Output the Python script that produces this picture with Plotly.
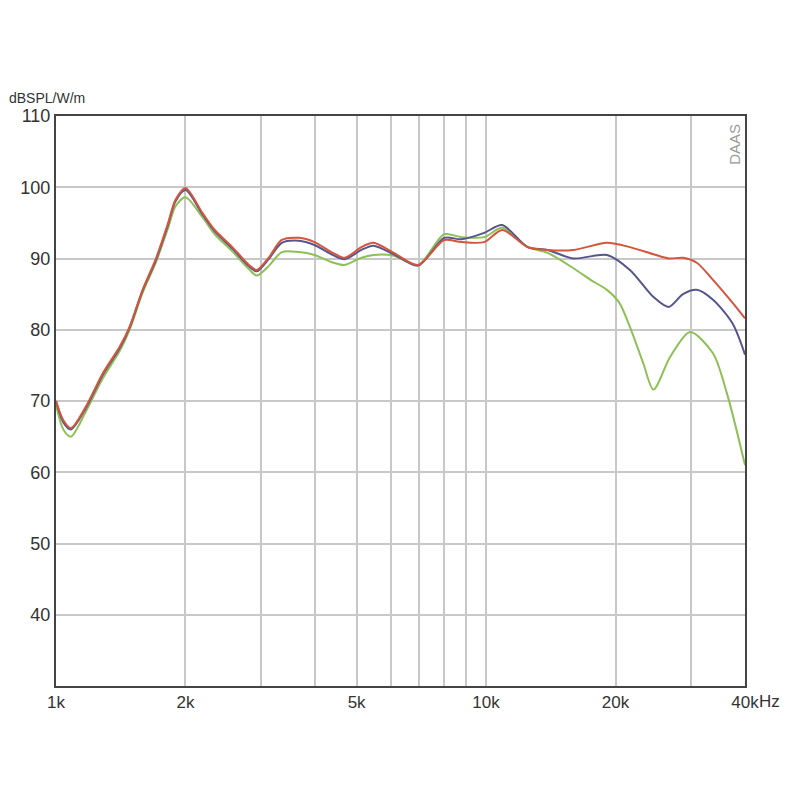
import plotly.graph_objects as go

# Frequencies in kHz
freq_common = [1.0, 1.04, 1.083, 1.173, 1.285, 1.406, 1.483, 1.59, 1.703, 1.823, 1.895, 2.0,
               2.19, 2.34, 2.57, 2.81, 2.93, 3.13, 3.35, 3.67, 3.99, 4.37, 4.69, 5.13, 5.47,
               6.1, 6.95, 7.99, 8.76, 9.9, 10.9, 12.5, 13.9]
freq_hi_rb = [15.98, 19.1, 21.6, 24.5, 26.6, 28.7, 30.9, 33.7, 37.4, 40.0]

red_db = [70.0, 67.3, 66.2, 69.2, 73.9, 77.6, 80.4, 85.6, 89.8, 95.0, 98.2, 99.9,
          96.4, 94.0, 91.6, 89.1, 88.4, 90.2, 92.6, 92.9, 92.3, 90.9, 90.1, 91.6, 92.2,
          90.8, 89.1, 92.6, 92.3, 92.3, 94.0, 91.6, 91.2,
          91.2, 92.2, 91.6, 90.6, 90.0, 90.1, 89.4, 87.0, 83.8, 81.6]

blue_db = [70.0, 67.0, 66.0, 69.0, 73.7, 77.4, 80.3, 85.5, 89.6, 94.8, 98.0, 99.6,
           96.2, 93.8, 91.4, 88.9, 88.2, 90.0, 92.2, 92.5, 91.9, 90.6, 89.9, 91.2, 91.8,
           90.6, 89.0, 92.9, 92.7, 93.6, 94.7, 91.6, 91.2,
           90.0, 90.5, 88.4, 84.6, 83.2, 85.0, 85.6, 84.2, 80.9, 76.5]

freq_green = freq_common[:-1] + [13.9, 16.0, 17.5, 19.1, 20.4, 21.6, 23.2, 24.5,
                                 26.8, 29.8, 33.7, 36.3, 40.0]
green_db = [69.5, 66.0, 65.0, 68.5, 73.2, 77.0, 80.0, 85.2, 89.3, 94.3, 97.3, 98.6,
            95.8, 93.4, 91.0, 88.5, 87.6, 89.0, 90.9, 90.9, 90.5, 89.5, 89.1, 90.1, 90.5,
            90.4, 89.1, 93.4, 93.0, 93.0, 94.3, 91.6,
            90.8, 88.6, 87.0, 85.6, 83.8, 80.4, 75.3, 71.6,
            76.2, 79.7, 76.7, 71.1, 61.0]

x_tickvals = [1, 2, 3, 4, 5, 6, 7, 8, 9, 10, 20, 30, 40]
x_ticktext = ["1k", "2k", "", "", "5k", "", "", "", "", "10k", "20k", "", "40k"]
y_tickvals = [40, 50, 60, 70, 80, 90, 100, 110]

fig = go.Figure()
series = [
    ("green", freq_green, green_db, "#8dc055"),
    ("blue", freq_common + freq_hi_rb, blue_db, "#56568f"),
    ("red", freq_common + freq_hi_rb, red_db, "#d4553c"),
]
for name, fx, fy, col in series:
    fig.add_trace(go.Scatter(x=fx, y=fy, mode="lines", name=name,
                             line=dict(color=col, width=2, shape="spline", smoothing=0.8),
                             showlegend=False, hoverinfo="skip"))

font_main = dict(family="Liberation Sans, Arial, sans-serif", size=17, color="#333333")

fig.update_layout(
    width=800, height=800,
    margin=dict(l=45, r=63, t=108, b=122),
    paper_bgcolor="white", plot_bgcolor="white",
    font=font_main,
    xaxis=dict(type="log", range=[0, 1.60206], tickvals=x_tickvals, ticktext=x_ticktext,
               showgrid=True, gridcolor="#c8c8c8", gridwidth=1.5,
               showline=True, linecolor="#444444", linewidth=2, mirror=True,
               ticks="", zeroline=False, tickfont=font_main),
    yaxis=dict(range=[30, 110], tickvals=y_tickvals,
               showgrid=True, gridcolor="#c8c8c8", gridwidth=1.5,
               showline=True, linecolor="#444444", linewidth=2, mirror=True,
               ticks="", zeroline=False,
               tickfont=dict(family="Liberation Sans, Arial, sans-serif", size=18, color="#333333")),
)

fig.add_annotation(text="Hz", xref="x", yref="paper", x=1.60206, y=0, xanchor="left", yanchor="top",
                   xshift=12, yshift=-4, showarrow=False, font=font_main)
fig.add_annotation(text="dBSPL/W/m", xref="paper", yref="paper", x=-0.071, y=1.031,
                   xanchor="left", yanchor="middle", showarrow=False,
                   font=dict(family="Liberation Sans, Arial, sans-serif", size=14, color="#333333"))
fig.add_annotation(text="DAAS", xref="paper", yref="paper", x=0.985, y=0.99,
                   xanchor="center", yanchor="top", textangle=-90, showarrow=False,
                   font=dict(family="Liberation Sans, Arial, sans-serif", size=15, color="#999999"))

fig.write_html("out.html")
